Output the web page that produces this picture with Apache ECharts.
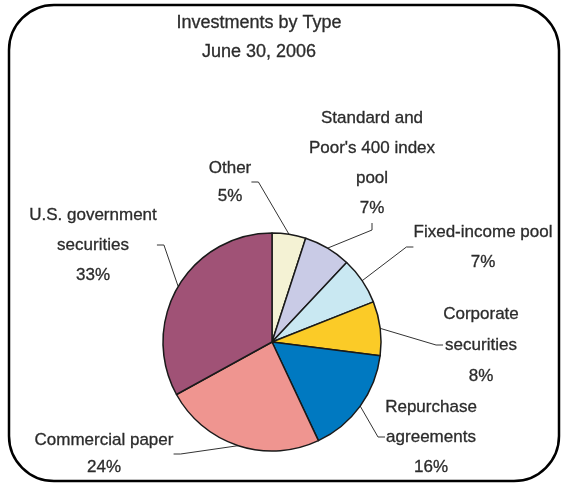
<!DOCTYPE html>
<html>
<head>
<meta charset="utf-8">
<script src="https://cdn.jsdelivr.net/npm/echarts@6/dist/echarts.min.js"></script>
<style>
  html, body { margin: 0; padding: 0; background: #ffffff; }
  #chart { width: 561px; height: 485px; }
</style>
</head>
<body>
<div id="chart"></div>
<script>
// ---- data (clockwise from 12 o'clock) ----
const categories = [
  "Other",
  "Standard and\nPoor's 400 index\npool",
  "Fixed-income pool",
  "Corporate\nsecurities",
  "Repurchase\nagreements",
  "Commercial paper",
  "U.S. government\nsecurities"
];
const percents = [5, 7, 7, 8, 16, 24, 33];

// ---- styling / layout (kept separate from data) ----
const sliceColors = ['#F4F2D4', '#C9CBE6', '#C9E8F2', '#FBCB27', '#0079C1', '#EF9590', '#A05276'];
const labelCenters = [
  [230, 182],
  [372, 163],
  [483, 247],
  [481, 345],
  [431, 437],
  [104, 454],
  [93, 245]
];
const labelLineHeights = [28, 30, 30, 31, 30, 27, 30];
const FONT = '"Liberation Sans", Arial, sans-serif';
const TEXT_COLOR = '#2b2b2b';

const chart = echarts.init(document.getElementById('chart'), null, { renderer: 'canvas' });

const option = {
  backgroundColor: '#ffffff',
  animation: false,
  title: {
    text: 'Investments by Type\nJune 30, 2006',
    left: 254,
    top: 4,
    textAlign: 'center',
    textStyle: {
      fontFamily: FONT,
      fontSize: 18,
      fontWeight: 'normal',
      color: TEXT_COLOR,
      lineHeight: 29,
      textBorderColor: TEXT_COLOR,
      textBorderWidth: 0.3
    }
  },
  graphic: [{
    type: 'rect',
    silent: true,
    shape: { x: 9, y: 5, width: 550, height: 476, r: 45 },
    style: { fill: 'none', stroke: '#000000', lineWidth: 2.5 },
    z: -1
  }],
  series: [{
    type: 'pie',
    center: [272, 342],
    radius: 109,
    startAngle: 90,
    clockwise: true,
    avoidLabelOverlap: false,
    data: categories.map((name, i) => ({
      name: name,
      value: percents[i],
      itemStyle: { color: sliceColors[i] },
      label: { lineHeight: labelLineHeights[i] }
    })),
    itemStyle: { borderColor: '#1a1a1a', borderWidth: 1.5 },
    label: {
      show: true,
      position: 'outside',
      formatter: p => p.name + '\n' + p.value + '%',
      fontFamily: FONT,
      fontSize: 17,
      color: TEXT_COLOR,
      textBorderColor: TEXT_COLOR,
      textBorderWidth: 0.3,
      lineHeight: 30,
      align: 'center'
    },
    labelLine: {
      show: true,
      length: 15,
      length2: 7,
      lineStyle: { color: '#333333', width: 1 }
    },
    labelLayout: function (params) {
      const c = labelCenters[params.dataIndex];
      return { x: c[0], y: c[1], align: 'center', verticalAlign: 'middle' };
    },
    emphasis: { disabled: true }
  }]
};

chart.setOption(option);
</script>
</body>
</html>
